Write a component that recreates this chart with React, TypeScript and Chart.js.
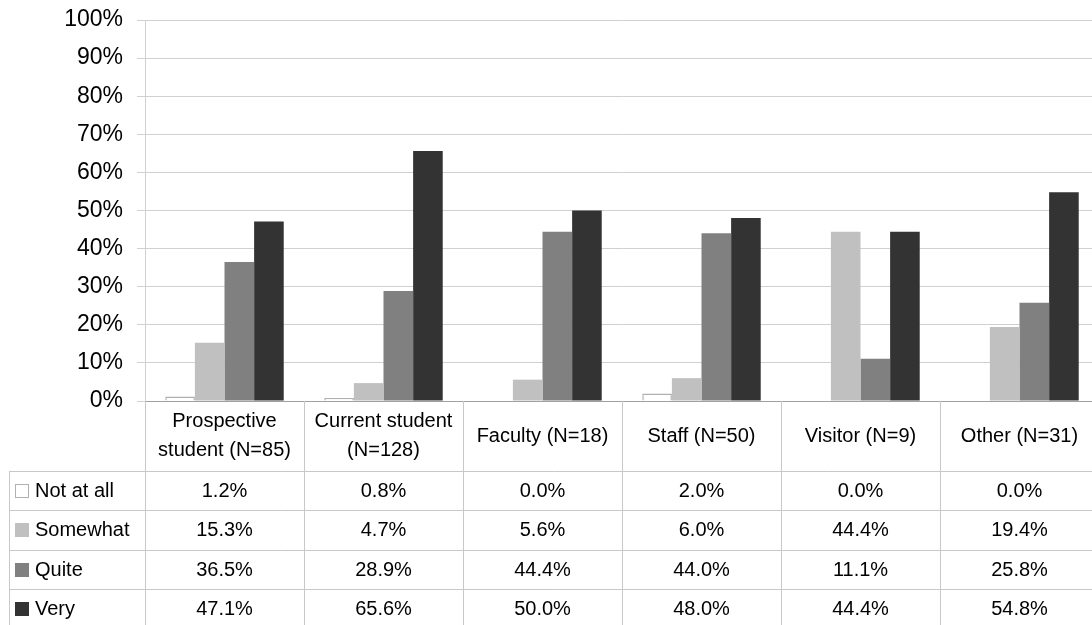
import React, { useEffect, useRef } from 'react';
import { Chart, registerables } from 'chart.js';

Chart.register(...registerables);

const categories: (string | string[])[] = [
  ['Prospective', 'student (N=85)'],
  ['Current student', '(N=128)'],
  'Faculty (N=18)',
  'Staff (N=50)',
  'Visitor (N=9)',
  'Other (N=31)',
];
const seriesNames = ['Not at all', 'Somewhat', 'Quite', 'Very'];
const notAtAll = [1.2, 0.8, 0.0, 2.0, 0.0, 0.0];
const somewhat = [15.3, 4.7, 5.6, 6.0, 44.4, 19.4];
const quite = [36.5, 28.9, 44.4, 44.0, 11.1, 25.8];
const very = [47.1, 65.6, 50.0, 48.0, 44.4, 54.8];
const yTickMin = 0;
const yTickMax = 100;
const yTickStep = 10;

const seriesValues = [notAtAll, somewhat, quite, very];
const fills = ['#ffffff', '#c0c0c0', '#808080', '#333333'];
const borders = ['#b0b0b0', '#c0c0c0', '#808080', '#333333'];

const FONT = '"Liberation Sans", Arial, Helvetica, sans-serif';

const tablePlugin = {
  id: 'dataTable',
  afterDraw(chart: any) {
    const ctx = chart.ctx as CanvasRenderingContext2D;
    const xs = chart.scales.x;
    const area = chart.chartArea;
    const n = categories.length;
    const colW = (area.right - area.left) / n;
    const top = area.bottom;
    const headerBottom = top + 70;
    const rowH = 39.3;
    const H = chart.height;
    const W = chart.width;
    const tableLeft = 9;

    ctx.save();
    ctx.strokeStyle = '#c8c8c8';
    ctx.lineWidth = 1;
    ctx.beginPath();
    for (let i = 0; i <= n; i++) {
      const x = Math.round(area.left + i * colW) + 0.5;
      ctx.moveTo(x, top);
      ctx.lineTo(x, H);
    }
    for (let r = 0; r < seriesNames.length; r++) {
      const y = Math.round(headerBottom + r * rowH) + 0.5;
      ctx.moveTo(tableLeft, y);
      ctx.lineTo(W, y);
    }
    ctx.moveTo(tableLeft + 0.5, Math.round(headerBottom));
    ctx.lineTo(tableLeft + 0.5, H);
    ctx.stroke();

    ctx.fillStyle = '#000000';
    ctx.font = `20px ${FONT}`;
    ctx.textAlign = 'center';
    ctx.textBaseline = 'middle';
    const lineH = 29;
    categories.forEach((c, i) => {
      const lines = Array.isArray(c) ? c : [c];
      const cx = xs.getPixelForValue(i);
      const mid = (top + headerBottom) / 2;
      const start = mid - ((lines.length - 1) * lineH) / 2;
      lines.forEach((ln, k) => ctx.fillText(ln, cx, start + k * lineH));
    });

    seriesNames.forEach((name, r) => {
      const cy = headerBottom + (r + 0.5) * rowH;
      const ks = 13;
      ctx.fillStyle = fills[r];
      ctx.fillRect(15.5, Math.round(cy - ks / 2) + 0.5, ks, ks);
      ctx.strokeStyle = borders[r];
      ctx.lineWidth = 1;
      ctx.strokeRect(15.5, Math.round(cy - ks / 2) + 0.5, ks, ks);
      ctx.fillStyle = '#000000';
      ctx.textAlign = 'left';
      ctx.fillText(name, 35, cy + 1);
      ctx.textAlign = 'center';
      seriesValues[r].forEach((v, i) => {
        ctx.fillText(v.toFixed(1) + '%', xs.getPixelForValue(i), cy + 1);
      });
    });
    ctx.restore();
  },
};

export default function App() {
  const ref = useRef<HTMLCanvasElement | null>(null);

  useEffect(() => {
    const prevMargin = document.body.style.margin;
    document.body.style.margin = '0';
    const canvas = ref.current;
    if (!canvas) return;
    const chart = new Chart(canvas, {
      type: 'bar',
      data: {
        labels: categories.map((c) => (Array.isArray(c) ? c.join(' ') : c)),
        datasets: seriesNames.map((name, i) => ({
          label: name,
          data: seriesValues[i],
          backgroundColor: fills[i],
          borderColor: borders[i],
          borderWidth: i === 0 ? 1.5 : 0,
          categoryPercentage: 0.745,
          barPercentage: 1.0,
        })),
      },
      options: {
        animation: false,
        responsive: false,
        devicePixelRatio: 1,
        layout: { padding: { left: 0, top: 20, right: 1, bottom: 224 } },
        plugins: {
          legend: { display: false },
          tooltip: { enabled: false },
          title: { display: false },
        },
        scales: {
          x: {
            display: false,
            offset: true,
            grid: { display: false },
          },
          y: {
            min: yTickMin,
            max: yTickMax,
            afterFit: (scale: any) => {
              scale.width = 145;
              scale.paddingTop = 0;
              scale.paddingBottom = 0;
            },
            ticks: {
              stepSize: yTickStep,
              padding: 14,
              color: '#000000',
              font: { family: FONT, size: 23 },
              callback: (v: any) => `${v}%`,
            },
            grid: {
              color: (c: any) => (c.tick && c.tick.value === 0 ? '#a0a0a0' : '#d0d0d0'),
              tickColor: '#d0d0d0',
              tickLength: 8,
              lineWidth: 1,
            },
            border: { display: true, color: '#d0d0d0' },
          },
        },
      },
      plugins: [tablePlugin],
    });
    return () => {
      chart.destroy();
      document.body.style.margin = prevMargin;
    };
  }, []);

  return (
    <div
      style={{
        position: 'fixed',
        left: 0,
        top: 0,
        width: 1092,
        height: 625,
        overflow: 'hidden',
        background: '#ffffff',
      }}
    >
      <canvas ref={ref} width={1100} height={625} style={{ display: 'block', width: 1100, height: 625 }} />
    </div>
  );
}
